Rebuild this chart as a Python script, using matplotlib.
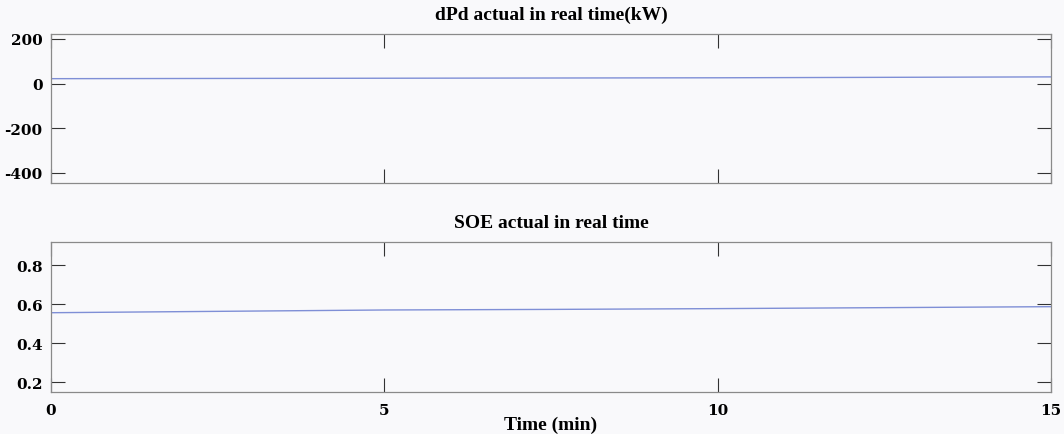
import matplotlib
matplotlib.use("Agg")
import matplotlib.pyplot as plt
import numpy as np

# Time axis (minutes) and sampled traces
time_min = [0, 2.5, 5, 7.5, 10, 12.5, 15]
dpd_kw = [22, 23, 24, 25, 26, 28, 30]
soe = [0.556, 0.563, 0.570, 0.573, 0.577, 0.582, 0.587]

x_ticks = [0, 5, 10, 15]
dpd_ticks = [-400, -200, 0, 200]
soe_ticks = [0.2, 0.4, 0.6, 0.8]

W, H = 1064, 435
bg = "#f9f9fb"
line_col = "#7f8fd6"
frame_col = "#8a8a8a"
title_font = ["Liberation Serif", "DejaVu Serif"]
tick_font = ["DejaVu Serif"]

fig = plt.figure(figsize=(W / 100, H / 100), dpi=100, facecolor=bg)


def px_axes(x0, y0, x1, y1):
    return fig.add_axes([x0 / W, 1 - y1 / H, (x1 - x0) / W, (y1 - y0) / H])


def style(ax):
    ax.set_facecolor(bg)
    for s in ax.spines.values():
        s.set_color(frame_col)
        s.set_linewidth(0.9)
    ax.tick_params(direction="in", length=10, width=0.8, color="#333333",
                   top=True, right=True, labelsize=11, pad=6)
    ax.tick_params(axis="x", pad=8)
    for lab in ax.get_xticklabels() + ax.get_yticklabels():
        lab.set_fontfamily(tick_font)
        lab.set_fontweight("bold")


ax1 = px_axes(51, 35, 1051, 184)
ax1.plot(time_min, dpd_kw, color=line_col, lw=1.0)
ax1.set_xlim(0, 15)
ax1.set_ylim(-445, 222)
ax1.set_xticks(x_ticks)
ax1.set_xticklabels([])
ax1.set_yticks(dpd_ticks)
ax1.set_yticklabels([str(v) for v in dpd_ticks])
style(ax1)
ax1.set_title("dPd actual in real time(kW)", family=title_font,
              fontweight="bold", fontsize=14, pad=11)

ax2 = px_axes(51, 243, 1051, 393)
ax2.plot(time_min, soe, color=line_col, lw=1.0)
ax2.set_xlim(0, 15)
ax2.set_ylim(0.149, 0.919)
ax2.set_xticks(x_ticks)
ax2.set_xticklabels([str(v) for v in x_ticks])
ax2.set_yticks(soe_ticks)
ax2.set_yticklabels([f"{v:.1f}" for v in soe_ticks])
style(ax2)
ax2.set_title("SOE actual in real time", family=title_font,
              fontweight="bold", fontsize=14, pad=11)
ax2.set_xlabel("Time (min)", family=title_font, fontweight="bold",
               fontsize=14, labelpad=-1)

fig.savefig("out.png", dpi=100, facecolor=bg)
